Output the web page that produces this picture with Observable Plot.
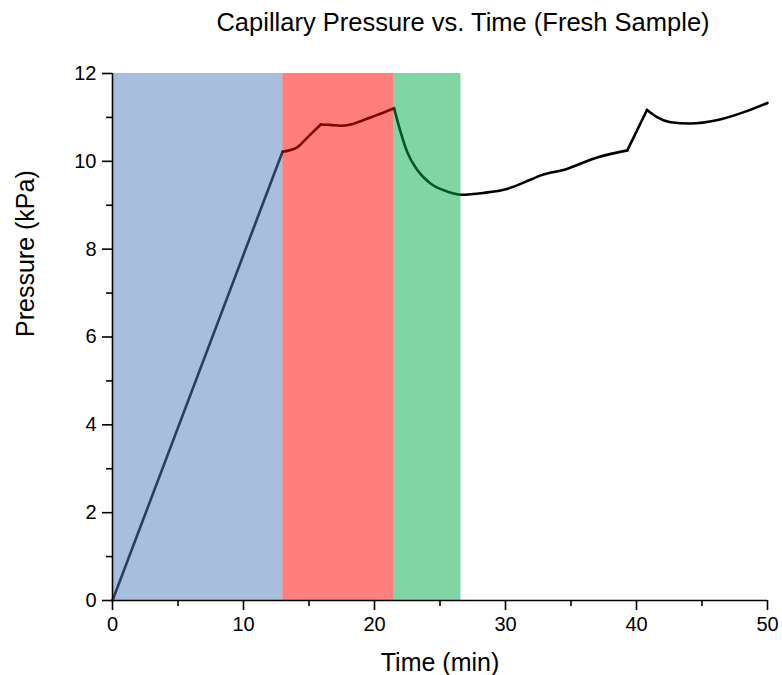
<!DOCTYPE html>
<html>
<head>
<meta charset="utf-8">
<script src="https://cdn.jsdelivr.net/npm/d3@7"></script>
<script src="https://cdn.jsdelivr.net/npm/@observablehq/plot@0.6"></script>
<style>
  html, body { margin: 0; padding: 0; background: #fff; }
  svg { font-family: "Liberation Sans", Arial, sans-serif; }
</style>
</head>
<body>
<div id="chart"></div>
<script>
const titleText = "Capillary Pressure vs. Time (Fresh Sample)";
const xLabel = "Time (min)";
const yLabel = "Pressure (kPa)";

// Measured curve (time in min, pressure in kPa)
const times =     [0, 12.98, 13.6, 14.1, 15.0, 15.9, 16.6, 17.4, 18.2, 19.0, 19.7, 20.6, 21.5,
                   21.75, 22.0, 22.5, 23.3, 24.3, 25.3, 26.6, 28.3, 30.1, 31.9, 32.7, 34.5, 37.0, 39.3,
                   40.8, 41.2, 41.6, 42.6, 44.1, 46.2, 48.2, 50.0];
const pressures = [0, 10.22, 10.26, 10.32, 10.58, 10.84, 10.83, 10.81, 10.84, 10.92, 11.0, 11.1, 11.21,
                   10.92, 10.66, 10.21, 9.79, 9.49, 9.34, 9.24, 9.28, 9.37, 9.58, 9.68, 9.81, 10.09, 10.25,
                   11.17, 11.08, 11.0, 10.89, 10.86, 10.94, 11.12, 11.33];
// Times where the curve has a sharp corner
const cornerTimes = [12.98, 15.9, 21.5, 39.3, 40.8];

// Shaded stages
const stageStart = [0, 13, 21.5];
const stageEnd   = [13, 21.5, 26.6];
const stageColor = ["#4f7fb9", "#ff0000", "#00ad4a"];

const xMajor = [0, 10, 20, 30, 40, 50];
const xMinor = [5, 15, 25, 35, 45];
const yMajor = [0, 2, 4, 6, 8, 10, 12];
const yMinor = [1, 3, 5, 7, 9, 11];

// split the curve into smooth pieces between corners
const curve = [];
let seg = 0;
times.forEach((t, i) => {
  curve.push({t, p: pressures[i], seg});
  if (cornerTimes.includes(t)) { seg++; curve.push({t, p: pressures[i], seg}); }
});
const stages = stageStart.map((s, i) => ({x1: s, x2: stageEnd[i], color: stageColor[i]}));

const chart = Plot.plot({
  width: 782,
  height: 675,
  marginLeft: 112,
  marginRight: 15,
  marginTop: 73,
  marginBottom: 75,
  style: {fontFamily: "'Liberation Sans', Arial, sans-serif", fontSize: "20px", color: "#000", background: "#fff"},
  x: {domain: [0, 50]},
  y: {domain: [0, 12]},
  marks: [
    Plot.line(curve, {x: "t", y: "p", z: "seg", stroke: "#000", strokeWidth: 2.6, curve: "monotone-x", strokeLinejoin: "round", strokeLinecap: "round"}),
    Plot.rect(stages, {x1: "x1", x2: "x2", y1: 0, y2: 12, fill: "color", fillOpacity: 0.5}),
    Plot.axisX(xMajor, {tickSize: 10, tickPadding: 6, strokeWidth: 1.6, label: null, fontSize: 20, tickFormat: d => String(d)}),
    Plot.axisX(xMinor, {tickSize: 6, strokeWidth: 1.6, text: null, label: null}),
    Plot.axisY(yMajor, {tickSize: 10, tickPadding: 6, strokeWidth: 1.6, label: null, fontSize: 20, tickFormat: d => String(d)}),
    Plot.axisY(yMinor, {tickSize: 6, strokeWidth: 1.6, text: null, label: null}),
    Plot.ruleY([0], {stroke: "#000", strokeWidth: 1.6}),
    Plot.ruleX([0], {stroke: "#000", strokeWidth: 1.6}),
    Plot.text([titleText], {frameAnchor: "top", dx: 23, dy: -51, fontSize: 25.5, fill: "#000", lineAnchor: "middle"}),
    Plot.text([xLabel], {frameAnchor: "bottom", dy: 62, fontSize: 25, fill: "#000", lineAnchor: "middle"}),
    Plot.text([yLabel], {frameAnchor: "left", dx: -87, rotate: -90, fontSize: 25, fill: "#000", lineAnchor: "middle"})
  ]
});
document.getElementById("chart").appendChild(chart);
</script>
</body>
</html>
